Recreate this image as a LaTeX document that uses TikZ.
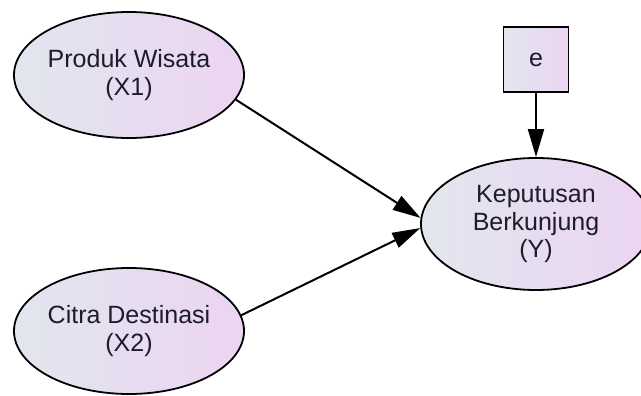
\documentclass[tikz,border=0pt]{standalone}
\usepackage{fontspec}
\setmainfont{Liberation Sans}
\usetikzlibrary{arrows.meta,shapes.geometric}
\tikzset{
    latent/.style={ellipse, draw=black, line width=1.8pt, left color=lvleft, right color=lvright,
        minimum width=230pt, minimum height=126pt, inner sep=0pt, align=center,
        text=txtcol, font=\fontsize{25}{27.5}\selectfont},
    errbox/.style={rectangle, draw=black, line width=1.8pt, left color=lvleft, right color=lvright,
        minimum width=65pt, minimum height=65pt, inner sep=0pt,
        text=txtcol, font=\fontsize{25}{27.5}\selectfont},
    regpath/.style={line width=2pt, -{Triangle[length=28pt,width=16pt]}}
}
\definecolor{lvleft}{HTML}{E2E6EE}
\definecolor{lvright}{HTML}{ECD4F2}
\definecolor{txtcol}{HTML}{1C1C2A}
\begin{document}
\begin{tikzpicture}[x=1pt,y=-1pt]
    \useasboundingbox (0,0) rectangle (641,396);
    \clip (0,0) rectangle (641,396);
    \node[latent] (x1) at (129,75) {Produk Wisata\\(X1)};
    \node[latent] (x2) at (129,331) {Citra Destinasi\\(X2)};
    \node[latent, minimum height=132pt] (y) at (536,224) {Keputusan\\Berkunjung\\(Y)};
    \node[errbox] (e) at (536,59.5) {e};
    \draw[regpath] (e.south) -- (y.north);
    \draw[regpath] (x1.-13) -- (y.177);
    \draw[regpath] (x2.8) -- (y.182);
\end{tikzpicture}
\end{document}
